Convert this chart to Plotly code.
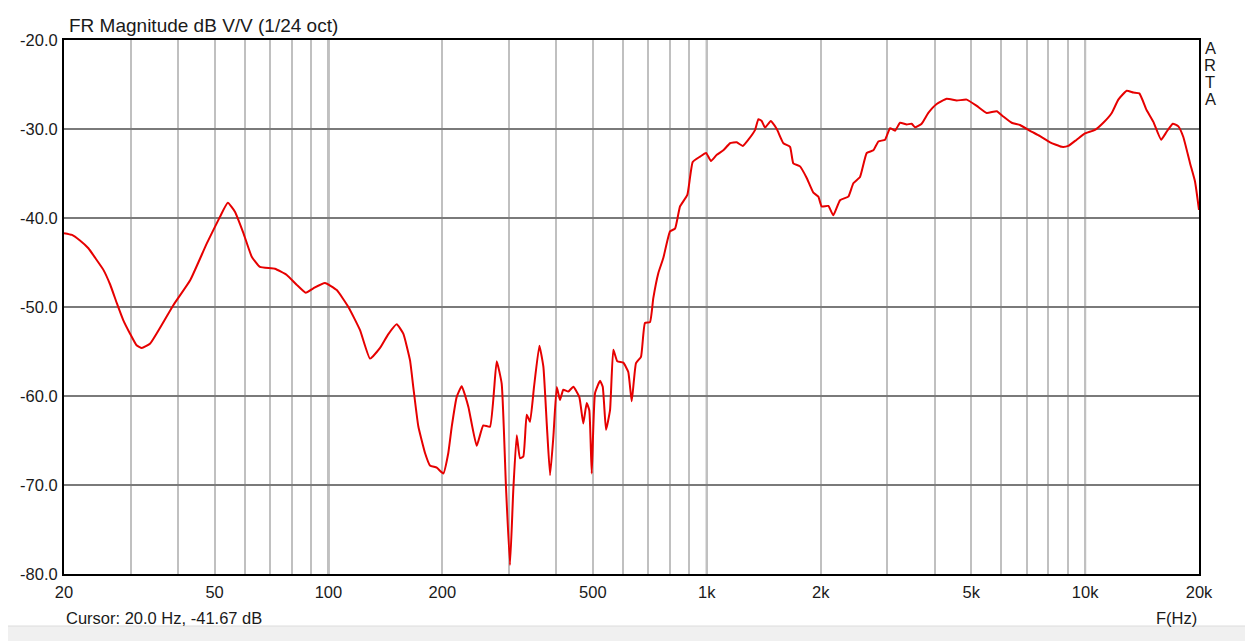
import plotly.graph_objects as go

# Frequency response (Hz, dB)
freq_hz = [20.0, 21.0, 22.0, 23.2, 24.2, 25.4, 26.5, 27.6, 28.7, 29.9, 31.1, 32.1, 33.8, 38.9, 43.1, 47.7, 51.7, 54.2, 56.6, 59.6,
           62.7, 65.9, 72.2, 77.6, 82.4, 87.1, 91.2, 97.9, 105.2, 112.9, 121.2, 128.8, 136.9, 143.7,
           151.5, 157.7, 164.3, 167.6, 172.8, 180.0, 185.5, 193.3, 201.2, 207.4, 211.8, 218.3, 225.0,
           234.3, 246.5, 256.6, 267.3, 278.4, 287.0, 294.6, 301.9, 308.0, 314.5, 320.9, 327.4, 334.2,
           341.0, 349.5, 361.0, 369.9, 377.6, 385.3, 393.1, 401.3, 409.3, 417.6, 430.5, 443.8, 460.3,
           471.6, 481.5, 489.2, 496.5, 506.5, 522.2, 530.9, 541.6, 555.0, 566.2, 580.2, 601.6, 620.2,
           633.3, 650.0, 670.0, 686.5, 707.8, 722.2, 744.5, 767.5, 799.6, 824.3, 849.8, 888.4, 918.0,
           959.8, 995.6, 1026, 1063, 1106, 1152, 1200, 1245, 1288, 1342, 1369, 1397, 1426, 1476, 1531,
           1594, 1660, 1693, 1764, 1837, 1913, 1972, 2012, 2096, 2160, 2250, 2367, 2440, 2541, 2647,
           2756, 2842, 2960, 3051, 3145, 3242, 3376, 3480, 3550, 3698, 3851, 4052, 4306, 4577, 4864,
           5170, 5495, 5840, 6078, 6396, 6730, 7152, 7601, 8079, 8672, 9026, 9500, 9992, 10620, 11170,
           11760, 12240, 12880, 13410, 13910, 14550, 15150, 15880, 16430, 17050, 17640, 18180, 18940,
           19520, 20000]
mag_db = [-41.7, -41.9, -42.5, -43.4, -44.5, -45.8, -47.5, -49.6, -51.5, -53.0, -54.3, -54.6, -54.1, -49.8, -47.0, -42.85, -39.85, -38.3,
          -39.3, -41.7, -44.35, -45.5, -45.7, -46.4, -47.5, -48.4, -47.9, -47.3, -48.1, -50.0, -52.6,
          -55.8, -54.6, -53.1, -51.95, -53.0, -56.0, -59.0, -63.4, -66.4, -67.8, -68.05, -68.7, -66.4,
          -63.45, -60.1, -58.9, -61.2, -65.6, -63.3, -63.45, -56.1, -58.6, -70.2, -79.0, -70.6, -64.4,
          -67.0, -66.8, -62.1, -62.9, -58.95, -54.35, -56.7, -63.1, -68.9, -64.6, -59.0, -60.45, -59.3,
          -59.5, -58.96, -60.1, -63.1, -60.8, -61.6, -68.7, -59.7, -58.3, -58.96, -63.8, -61.6, -54.8,
          -56.1, -56.25, -57.3, -60.6, -56.3, -55.6, -51.8, -51.7, -49.0, -46.2, -44.5, -41.5, -41.2,
          -38.7, -37.4, -33.7, -33.1, -32.7, -33.6, -32.9, -32.4, -31.6, -31.5, -31.9, -31.2, -30.1,
          -28.9, -29.1, -29.85, -29.1, -30.0, -31.6, -32.0, -33.85, -34.2, -35.5, -37.15, -37.6, -38.7,
          -38.65, -39.7, -38.0, -37.6, -36.1, -35.4, -32.7, -32.4, -31.4, -31.2, -29.9, -30.2, -29.3,
          -29.5, -29.4, -29.8, -29.4, -28.2, -27.2, -26.6, -26.8, -26.7, -27.4, -28.2, -28.0, -28.6,
          -29.3, -29.55, -30.2, -30.8, -31.5, -32.0, -31.9, -31.2, -30.5, -30.1, -29.3, -28.2, -26.7,
          -25.7, -25.9, -26.0, -27.9, -29.2, -31.2, -30.3, -29.4, -29.7, -30.9, -33.85, -35.9, -39.1]

x_grid = [20, 30, 40, 50, 60, 70, 80, 90, 100, 200, 300, 400, 500, 600, 700, 800, 900,
          1000, 2000, 3000, 4000, 5000, 6000, 7000, 8000, 9000, 10000, 20000]
x_labels = {20: "20", 50: "50", 100: "100", 200: "200", 500: "500", 1000: "1k",
            2000: "2k", 5000: "5k", 10000: "10k", 20000: "20k"}
decades = [100, 1000, 10000]
y_ticks = [-80, -70, -60, -50, -40, -30, -20]

FONT = "Liberation Sans, Arial, sans-serif"
TXT = "#1a1a1a"

fig = go.Figure()
fig.add_trace(go.Scatter(x=freq_hz, y=mag_db, mode="lines", line_shape="spline",
                         line=dict(color="#e60000", width=2, smoothing=0.4), hoverinfo="skip"))

for d in decades:
    fig.add_shape(type="line", xref="x", yref="paper", x0=d, x1=d, y0=0, y1=1,
                  line=dict(color="#7a7a7a", width=2), layer="below")

# bottom status strip
fig.add_shape(type="rect", xref="paper", yref="paper", x0=-64/1135, x1=1+54/1135,
              y0=-(645-574)/534, y1=-(626-574)/534, fillcolor="#f0f0f0",
              line=dict(width=0), layer="below")
fig.add_shape(type="line", xref="paper", yref="paper", x0=-64/1135, x1=1+54/1135,
              y0=-(626-574)/534, y1=-(626-574)/534, line=dict(color="#dcdcdc", width=1))

fig.update_layout(
    width=1245, height=633,
    margin=dict(l=56, r=54, t=32, b=67),
    paper_bgcolor="white", plot_bgcolor="white",
    showlegend=False,
    font=dict(family=FONT, size=16.5, color=TXT),
    xaxis=dict(type="log", range=[1.30103, 4.30103],
               tickvals=x_grid, ticktext=[x_labels.get(v, "") for v in x_grid],
               showgrid=True, gridcolor="#c0c0c0", gridwidth=2,
               showline=True, mirror=True, linecolor="black", linewidth=2,
               ticks="", ticklabelstandoff=2, zeroline=False,
               tickfont=dict(family=FONT, size=16.5, color=TXT)),
    yaxis=dict(range=[-80, -20], tickvals=y_ticks,
               ticktext=[f"{v:.1f}" for v in y_ticks],
               showgrid=True, gridcolor="#7a7a7a", gridwidth=2,
               showline=True, mirror=True, linecolor="black", linewidth=2,
               ticks="", ticklabelstandoff=1, zeroline=False,
               tickfont=dict(family=FONT, size=16.5, color=TXT)),
)

fig.add_annotation(text="FR Magnitude dB V/V (1/24 oct)", xref="paper", yref="paper",
                   x=3/1135, y=1, xanchor="left", yanchor="bottom", showarrow=False,
                   yshift=2, font=dict(family=FONT, size=19, color=TXT))
fig.add_annotation(text="Cursor: 20.0 Hz, -41.67 dB", xref="paper", yref="paper",
                   x=0, y=-(618-574)/534, xanchor="left", yanchor="middle", showarrow=False,
                   font=dict(family=FONT, size=16.5, color=TXT))
fig.add_annotation(text="F(Hz)", xref="paper", yref="paper",
                   x=1, y=-(618-574)/534, xanchor="right", yanchor="middle", showarrow=False,
                   font=dict(family=FONT, size=16.5, color=TXT))
for i, ch in enumerate("ARTA"):
    fig.add_annotation(text=ch, xref="paper", yref="paper",
                       x=(1210-64)/1135, y=1-(48+17*i-40)/534, xanchor="center",
                       yanchor="middle", showarrow=False,
                       font=dict(family=FONT, size=16.5, color=TXT))

fig.write_html("out.html")
